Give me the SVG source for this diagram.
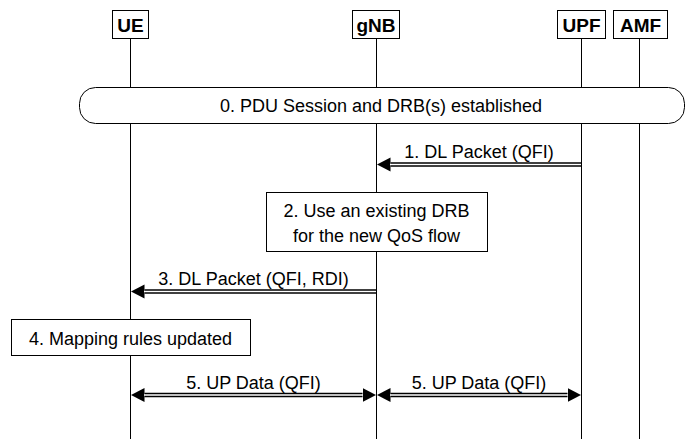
<svg xmlns="http://www.w3.org/2000/svg" width="685" height="439" viewBox="0 0 685 439">
<style>
text{font-family:"Liberation Sans",Arial,sans-serif;fill:#000}
.hd{font-size:19px;font-weight:bold;text-anchor:middle}
.t{font-size:18px;text-anchor:middle}
.box{fill:#fff;stroke:#000;stroke-width:1}
.life{stroke:#000;stroke-width:1}
.dbl{stroke:#000;stroke-width:4.5;fill:none}
.inner{stroke:#fff;stroke-width:1.5;fill:none}
</style>
<defs>
<marker id="ah" markerUnits="userSpaceOnUse" markerWidth="14" markerHeight="16" viewBox="0 0 14 16" refX="0" refY="8" orient="auto-start-reverse">
<path d="M0,1 L13.5,8 L0,15 z" fill="#000"/>
</marker>
</defs>
<g id="lifelines">
<line class="life" x1="130.5" y1="39" x2="130.5" y2="439"/>
<line class="life" x1="376.5" y1="39" x2="376.5" y2="439"/>
<line class="life" x1="581.5" y1="39" x2="581.5" y2="439"/>
<line class="life" x1="639.5" y1="39" x2="639.5" y2="439"/>
</g>
<g id="UE"><rect class="box" x="112.5" y="10.5" width="36" height="28"/><text class="hd" x="130.5" y="32">UE</text></g>
<g id="gNB"><rect class="box" x="352.5" y="10.5" width="47" height="28"/><text class="hd" x="376" y="32">gNB</text></g>
<g id="UPF"><rect class="box" x="557.5" y="10.5" width="48" height="28"/><text class="hd" x="581.5" y="32">UPF</text></g>
<g id="AMF"><rect class="box" x="613.5" y="10.5" width="54" height="28"/><text class="hd" x="640.5" y="32">AMF</text></g>
<g id="step0"><rect class="box" x="79.5" y="87.5" width="605" height="36" rx="16" ry="16"/><text class="t" x="381" y="112">0. PDU Session and DRB(s) established</text></g>
<g id="step2"><rect class="box" x="266.5" y="192.5" width="221" height="59"/><text class="t" x="376.5" y="217">2. Use an existing DRB</text><text class="t" x="376.5" y="242">for the new QoS flow</text></g>
<g id="step4"><rect class="box" x="11.5" y="319.5" width="239" height="36"/><text class="t" x="130.5" y="345">4. Mapping rules updated</text></g>
<g id="connectors">
<line class="dbl" x1="581" y1="164.5" x2="390.5" y2="164.5" marker-end="url(#ah)"/>
<line class="inner" x1="581" y1="164.5" x2="390" y2="164.5"/>
<text class="t" x="479" y="158">1. DL Packet (QFI)</text>
<line class="dbl" x1="376" y1="291.5" x2="144.5" y2="291.5" marker-end="url(#ah)"/>
<line class="inner" x1="376" y1="291.5" x2="144" y2="291.5"/>
<text class="t" x="253.5" y="285">3. DL Packet (QFI, RDI)</text>
<line class="dbl" x1="144.5" y1="395" x2="362.5" y2="395" marker-start="url(#ah)" marker-end="url(#ah)"/>
<line class="inner" x1="144" y1="395" x2="363" y2="395"/>
<text class="t" x="253.5" y="389">5. UP Data (QFI)</text>
<line class="dbl" x1="390.5" y1="395" x2="567.5" y2="395" marker-start="url(#ah)" marker-end="url(#ah)"/>
<line class="inner" x1="390" y1="395" x2="568" y2="395"/>
<text class="t" x="479" y="389">5. UP Data (QFI)</text>
</g>
</svg>
